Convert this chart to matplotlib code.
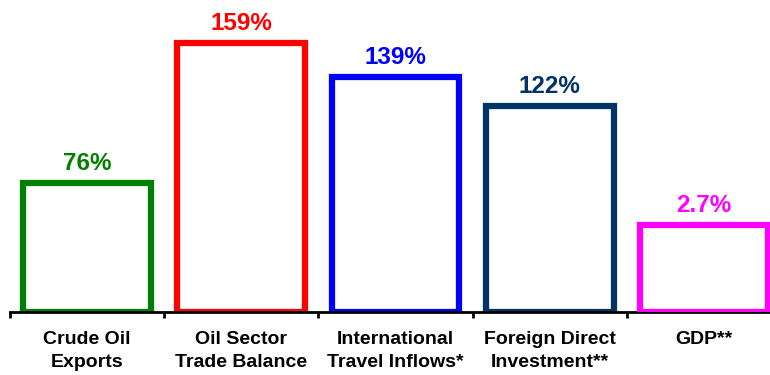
import matplotlib
matplotlib.use("Agg")
import matplotlib.pyplot as plt
import numpy as np

categories = ["Crude Oil\nExports", "Oil Sector\nTrade Balance", "International\nTravel Inflows*",
              "Foreign Direct\nInvestment**", "GDP**"]
values = [76, 159, 139, 122, 2.7]
labels = ["76%", "159%", "139%", "122%", "2.7%"]
colors = ["#008000", "#FF0000", "#0000FF", "#003366", "#FF00FF"]
# GDP is drawn on its own (hidden) scale
gdp_display_equiv = 51.4

plt.rcParams['font.family'] = ['Liberation Sans', 'DejaVu Sans']

fig = plt.figure(figsize=(7.7, 3.75), dpi=100)
ax = fig.add_axes([10/770, 63/375, 771/770, 312/375])
ymax = 184.4
ax.set_xlim(-0.5, 4.5)
ax.set_ylim(0, ymax)

x = np.arange(len(categories))
bw = 0.83
lw = 4.5
off = 7.7
fs_val = 17.5
main_idx = [0, 1, 2, 3]
for i in main_idx:
    ax.bar(x[i], values[i], width=bw, facecolor="none", edgecolor=colors[i],
           linewidth=lw, joinstyle="miter", zorder=2)
    ax.text(x[i], values[i] + off, labels[i], ha="center", va="baseline", color=colors[i],
            fontsize=fs_val, fontweight="bold")

ax2 = ax.twinx()
ax2.set_ylim(0, ymax * values[4] / gdp_display_equiv)
ax2.bar(x[4], values[4], width=bw, facecolor="none", edgecolor=colors[4],
        linewidth=lw, joinstyle="miter", zorder=2)
ax2.text(x[4], values[4] + off * values[4] / gdp_display_equiv, labels[4], ha="center", va="baseline",
         color=colors[4], fontsize=fs_val, fontweight="bold")
ax2.set_yticks([])
for s in ax2.spines.values():
    s.set_visible(False)

for s in ["left", "right", "top"]:
    ax.spines[s].set_visible(False)
ax.spines["bottom"].set_linewidth(2.0)
ax.spines["bottom"].set_zorder(5)
ax.set_yticks([])
ax.set_xticks(x)
ax.set_xticklabels(categories, fontsize=14, fontweight="bold", linespacing=1.4)
ax.tick_params(axis="x", which="major", length=0, pad=14)
ax.set_xticks(np.arange(-0.5, 4.6, 1), minor=True)
ax.tick_params(axis="x", which="minor", length=4, width=2, direction="out")

fig.savefig("out.png", dpi=100)
